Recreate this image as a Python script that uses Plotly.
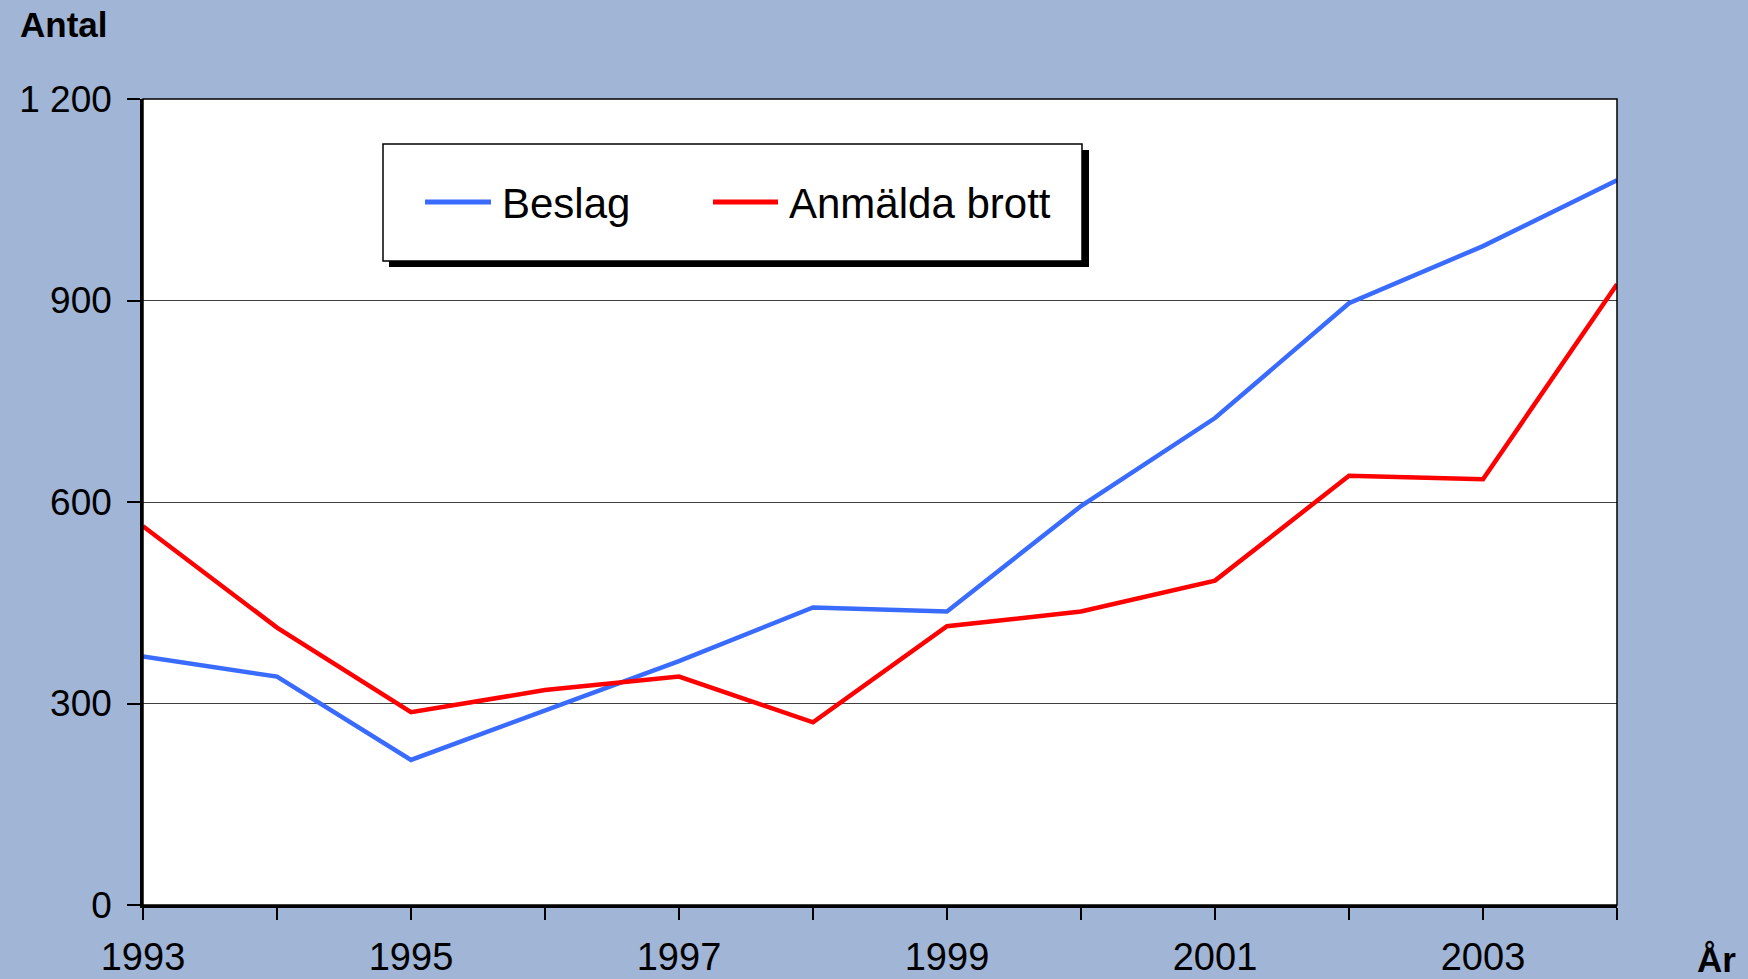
import plotly.graph_objects as go

# Antal per år, 1993–2004
years = [1993, 1994, 1995, 1996, 1997, 1998, 1999, 2000, 2001, 2002, 2003, 2004]
beslag = [370, 340, 216, 290, 363, 443, 437, 594, 725, 896, 981, 1079]
anmalda_brott = [564, 413, 287, 320, 340, 272, 415, 437, 483, 639, 634, 924]

series_names = ["Beslag", "Anmälda brott"]
series_colors = ["#3A6BFF", "#FF0000"]

y_tickvals = [0, 300, 600, 900, 1200]
y_ticktext = ["0", "300", "600", "900", "1 200"]
x_ticktext = ["1993", "", "1995", "", "1997", "", "1999", "", "2001", "", "2003", ""]

BG = "#A1B5D6"
W, H = 1748, 979
L, R, T, B = 143, 1617, 99, 905  # plot area in pixels


def px(x):
    return (x - L) / (R - L)


def py(y):
    return (B - y) / (B - T)


fig = go.Figure()
for name, vals, col in zip(series_names, [beslag, anmalda_brott], series_colors):
    fig.add_trace(go.Scatter(
        x=years, y=vals, name=name, mode="lines",
        line=dict(color=col, width=4.5), showlegend=False,
    ))

shapes = []
# legend box with drop shadow
shapes.append(dict(type="rect", xref="paper", yref="paper",
                   x0=px(389), x1=px(1089), y0=py(267), y1=py(150),
                   fillcolor="black", line=dict(width=0), layer="above"))
shapes.append(dict(type="rect", xref="paper", yref="paper",
                   x0=px(383), x1=px(1082), y0=py(261), y1=py(144),
                   fillcolor="white", line=dict(color="black", width=1.5), layer="above"))
# legend line samples
legend_items = [(425, 491, 500), (713, 778, 787)]
annotations = []
for (lx0, lx1, tx), name, col in zip(legend_items, series_names, series_colors):
    shapes.append(dict(type="line", xref="paper", yref="paper",
                       x0=px(lx0), x1=px(lx1), y0=py(202), y1=py(202),
                       line=dict(color=col, width=5), layer="above"))
    annotations.append(dict(xref="paper", yref="paper", x=px(tx), y=py(204),
                            xanchor="left", yanchor="middle", showarrow=False,
                            text=name, font=dict(size=42, color="black",
                                                 family="Liberation Sans, Arial")))
# plot frame (thin top/right edges)
shapes.append(dict(type="rect", xref="paper", yref="paper", x0=0, x1=1, y0=0, y1=1,
                   line=dict(color="black", width=1.5), layer="above"))

annotations.append(dict(xref="paper", yref="paper", x=px(18), y=py(25),
                        xanchor="left", yanchor="middle", showarrow=False,
                        text="<b>Antal</b>",
                        font=dict(size=35, color="black", family="Liberation Sans, Arial")))
annotations.append(dict(xref="paper", yref="paper", x=px(1695), y=py(960),
                        xanchor="left", yanchor="middle", showarrow=False,
                        text="<b>År</b>",
                        font=dict(size=35, color="black", family="Liberation Sans, Arial")))

fig.update_layout(
    width=W, height=H,
    margin=dict(l=L, r=W - R, t=T, b=H - B, pad=0, autoexpand=False),
    paper_bgcolor=BG, plot_bgcolor="white",
    font=dict(family="Liberation Sans, Arial", color="black", size=37),
    shapes=shapes, annotations=annotations,
    xaxis=dict(
        range=[1993, 2004], tickmode="array", tickvals=years, ticktext=x_ticktext,
        showgrid=False, zeroline=False, showline=True, linecolor="black", linewidth=2.5,
        ticks="outside", ticklen=12, tickwidth=1.5, tickcolor="black",
        ticklabelstandoff=5, tickfont=dict(size=38), automargin=False,
    ),
    yaxis=dict(
        range=[0, 1200], tickmode="array", tickvals=y_tickvals, ticktext=y_ticktext,
        showgrid=True, gridcolor="#404040", gridwidth=1, zeroline=False,
        showline=True, linecolor="black", linewidth=2.5,
        ticks="outside", ticklen=13, tickwidth=1.5, tickcolor="black",
        ticklabelstandoff=8, tickfont=dict(size=37), automargin=False,
    ),
)

fig.write_html("out.html")
